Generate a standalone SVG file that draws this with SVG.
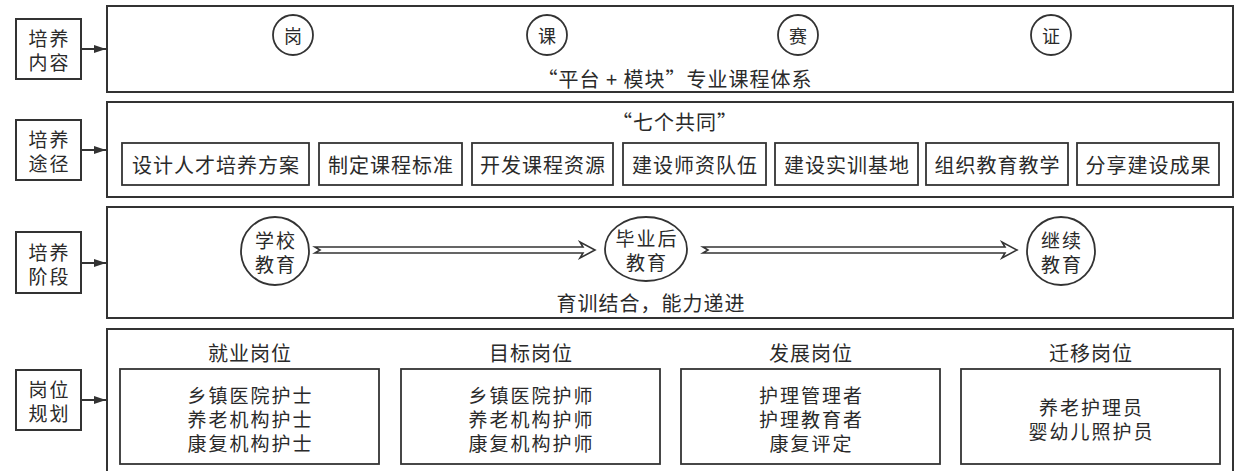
<svg xmlns="http://www.w3.org/2000/svg" width="1236" height="471" viewBox="0 0 1236 471">
<defs>
<style>
.box{fill:#fff;stroke:#333;stroke-width:2}
.sub{fill:none;stroke:#333;stroke-width:1.8}
.t{font-family:"Noto Sans CJK SC","Noto Sans",sans-serif;font-size:20px;letter-spacing:1px;fill:#2a2a2a;text-anchor:middle;dominant-baseline:central}
.m{font-size:19px;letter-spacing:2px}
.c{font-size:18px;letter-spacing:0}
.conn{stroke:#333;stroke-width:2;fill:none}
.hollow{fill:#fff;stroke:#333;stroke-width:1.6;stroke-linejoin:miter}
</style>
<marker id="ah" viewBox="0 0 12 8" refX="12" refY="4" markerWidth="12" markerHeight="8" markerUnits="userSpaceOnUse" orient="auto">
<path d="M0,0 L12,4 L0,8 Z" fill="#333"/>
</marker>
</defs>
<rect width="1236" height="471" fill="#fff"/>

<g id="label-content"><rect class="box" x="16" y="19" width="65" height="60"/><text class="t m" x="49.5" y="37">培养<tspan x="49.5" dy="24">内容</tspan></text></g>
<g id="label-path"><rect class="box" x="16" y="120" width="65" height="60"/><text class="t m" x="49.5" y="138">培养<tspan x="49.5" dy="24">途径</tspan></text></g>
<g id="label-stage"><rect class="box" x="16" y="232" width="65" height="61"/><text class="t m" x="49.5" y="251">培养<tspan x="49.5" dy="24">阶段</tspan></text></g>
<g id="label-job"><rect class="box" x="16" y="370" width="65" height="60"/><text class="t m" x="49.5" y="388">岗位<tspan x="49.5" dy="24">规划</tspan></text></g>

<g id="panel-content">
<rect class="box" x="107" y="6" width="1126" height="86"/>
<circle class="sub" cx="293" cy="35" r="20"/><text class="t c" x="293" y="35">岗</text>
<circle class="sub" cx="547" cy="35" r="20"/><text class="t c" x="547" y="35">课</text>
<circle class="sub" cx="798" cy="35" r="20"/><text class="t c" x="798" y="35">赛</text>
<circle class="sub" cx="1051" cy="35" r="20"/><text class="t c" x="1051" y="35">证</text>
<text class="t" x="675" y="78">“平台 + 模块”专业课程体系</text>
</g>

<g id="panel-path">
<rect class="box" x="107" y="102" width="1126" height="95"/>
<text class="t" x="675" y="121">“七个共同”</text>
<g id="p1"><rect class="sub" x="122" y="143" width="187" height="42"/><text class="t" x="216" y="164">设计人才培养方案</text></g>
<g id="p2"><rect class="sub" x="319" y="143" width="143" height="42"/><text class="t" x="391" y="164">制定课程标准</text></g>
<g id="p3"><rect class="sub" x="472" y="143" width="141" height="42"/><text class="t" x="543" y="164">开发课程资源</text></g>
<g id="p4"><rect class="sub" x="623" y="143" width="143" height="42"/><text class="t" x="695" y="164">建设师资队伍</text></g>
<g id="p5"><rect class="sub" x="775" y="143" width="143" height="42"/><text class="t" x="847" y="164">建设实训基地</text></g>
<g id="p6"><rect class="sub" x="926" y="143" width="142" height="42"/><text class="t" x="997.5" y="164">组织教育教学</text></g>
<g id="p7"><rect class="sub" x="1077" y="143" width="142" height="42"/><text class="t" x="1148.5" y="164">分享建设成果</text></g>
</g>

<g id="panel-stage">
<rect class="box" x="107" y="207" width="1126" height="111"/>
<g id="s1"><circle class="sub" cx="275" cy="251" r="34"/><text class="t m" x="276" y="239">学校<tspan x="276" dy="24">教育</tspan></text></g>
<g id="s2"><ellipse class="sub" cx="646" cy="249" rx="41" ry="32"/><text class="t m" x="647" y="237">毕业后<tspan x="647" dy="24">教育</tspan></text></g>
<g id="s3"><circle class="sub" cx="1061" cy="251" r="34"/><text class="t m" x="1062" y="239">继续<tspan x="1062" dy="24">教育</tspan></text></g>
<text class="t" x="651" y="302">育训结合，能力递进</text>
</g>

<g id="panel-job">
<rect class="box" x="107" y="329" width="1126" height="150"/>
<g id="j1"><text class="t" x="250" y="352">就业岗位</text><rect class="sub" x="120" y="369" width="259" height="95"/>
<text class="t m" x="250.5" y="394">乡镇医院护士<tspan x="250.5" dy="24">养老机构护士</tspan><tspan x="250.5" dy="24">康复机构护士</tspan></text></g>
<g id="j2"><text class="t" x="531" y="352">目标岗位</text><rect class="sub" x="401" y="369" width="259" height="95"/>
<text class="t m" x="531.5" y="394">乡镇医院护师<tspan x="531.5" dy="24">养老机构护师</tspan><tspan x="531.5" dy="24">康复机构护师</tspan></text></g>
<g id="j3"><text class="t" x="811" y="352">发展岗位</text><rect class="sub" x="681" y="369" width="259" height="95"/>
<text class="t m" x="811.5" y="394">护理管理者<tspan x="811.5" dy="24">护理教育者</tspan><tspan x="811.5" dy="24">康复评定</tspan></text></g>
<g id="j4"><text class="t" x="1091" y="352">迁移岗位</text><rect class="sub" x="961" y="369" width="259" height="95"/>
<text class="t m" x="1091.5" y="406">养老护理员<tspan x="1091.5" dy="24">婴幼儿照护员</tspan></text></g>
</g>

<g id="connectors">
<line class="conn" x1="81" y1="49" x2="106" y2="49" marker-end="url(#ah)"/>
<line class="conn" x1="81" y1="150" x2="106" y2="150" marker-end="url(#ah)"/>
<line class="conn" x1="81" y1="263" x2="106" y2="263" marker-end="url(#ah)"/>
<line class="conn" x1="81" y1="400" x2="106" y2="400" marker-end="url(#ah)"/>
<path class="hollow" d="M315,247 L583,247 L580,242 L595,250 L580,258 L583,253 L315,253 L320,250 Z"/>
<path class="hollow" d="M703,247 L1005,247 L1002,242 L1017,250 L1002,258 L1005,253 L703,253 L708,250 Z"/>
</g>
</svg>
